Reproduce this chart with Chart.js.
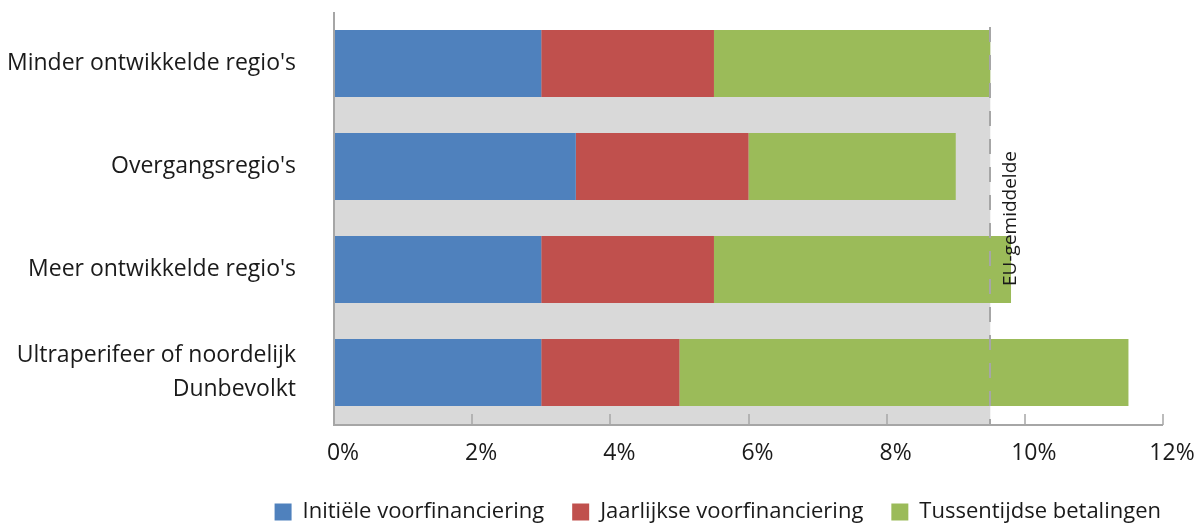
<!DOCTYPE html>
<html><head><meta charset="utf-8">
<script src="https://cdn.jsdelivr.net/npm/chart.js@4/dist/chart.umd.min.js"></script>
<style>html,body{margin:0;padding:0;background:#fff}#wrap{width:1204px;height:524px}</style>
</head><body><div id="wrap"><canvas id="c"></canvas></div>
<script>
const categories = ["Minder ontwikkelde regio's", "Overgangsregio's", "Meer ontwikkelde regio's", ["Ultraperifeer of noordelijk", "Dunbevolkt"]];
const seriesNames = ["Initiële voorfinanciering", "Jaarlijkse voorfinanciering", "Tussentijdse betalingen"];
const initial = [3, 3.5, 3, 3];
const annual = [2.5, 2.5, 2.5, 2];
const interim = [4, 3, 4.3, 6.5];
const euAverage = 9.5;
const euLabel = "EU-gemiddelde";
const xTicks = [0, 2, 4, 6, 8, 10, 12];

const FONT = "'Open Sans', 'Noto Sans', sans-serif";
const AXIS = "#a6a6a6";

const bgPlugin = {
  id: 'euBg',
  beforeDatasetsDraw(chart) {
    const {ctx, chartArea, scales} = chart;
    const bar0 = chart.getDatasetMeta(0).data[0];
    const top = bar0.y - bar0.height / 2;
    const x0 = scales.x.getPixelForValue(0);
    const x1 = scales.x.getPixelForValue(euAverage);
    ctx.save();
    ctx.fillStyle = '#d9d9d9';
    ctx.fillRect(x0, top, x1 - x0, chartArea.bottom - top);
    ctx.restore();
  },
  afterDatasetsDraw(chart) {
    const {ctx, chartArea, scales} = chart;
    const bar0 = chart.getDatasetMeta(0).data[0];
    const top = bar0.y - bar0.height / 2 - 3;
    const x = Math.round(scales.x.getPixelForValue(euAverage));
    ctx.save();
    ctx.strokeStyle = AXIS;
    ctx.lineWidth = 2;
    ctx.setLineDash([15, 13]);
    ctx.beginPath();
    ctx.moveTo(x, top);
    ctx.lineTo(x, chartArea.bottom);
    ctx.stroke();
    ctx.setLineDash([]);
    ctx.lineWidth = 2;
    ctx.strokeStyle = AXIS;
    ctx.beginPath();
    ctx.moveTo(chartArea.left, chartArea.top);
    ctx.lineTo(chartArea.left, chartArea.bottom + 1);
    ctx.lineTo(chartArea.right, chartArea.bottom + 1);
    ctx.stroke();
    ctx.lineWidth = 1.5;
    xTicks.forEach(v => {
      const px = Math.round(scales.x.getPixelForValue(v));
      ctx.beginPath();
      ctx.moveTo(px, chartArea.bottom + 1);
      ctx.lineTo(px, chartArea.bottom - 10);
      ctx.stroke();
    });
    ctx.translate(x + 21, scales.y.getPixelForValue(1) + 52);
    ctx.rotate(-Math.PI / 2);
    ctx.fillStyle = '#1a1a1a';
    ctx.font = "19px " + FONT;
    ctx.textAlign = 'center';
    ctx.textBaseline = 'middle';
    ctx.fillText(euLabel, 0, 0);
    ctx.restore();
  }
};

new Chart(document.getElementById('c'), {
  type: 'bar',
  data: {
    labels: categories,
    datasets: [
      {label: seriesNames[0], data: initial, backgroundColor: '#4f81bd'},
      {label: seriesNames[1], data: annual, backgroundColor: '#c0504d'},
      {label: seriesNames[2], data: interim, backgroundColor: '#9bbb59'}
    ]
  },
  options: {
    indexAxis: 'y',
    responsive: true,
    maintainAspectRatio: false,
    animation: false,
    datasets: {bar: {categoryPercentage: 1, barPercentage: 0.65, borderWidth: 0}},
    layout: {padding: {top: 12, right: 15, left: 0, bottom: -9}},
    scales: {
      x: {
        stacked: true, min: 0, max: 12,
        afterBuildTicks(s) { s.ticks = xTicks.map(v => ({value: v})); },
        afterFit(s) { s.height = 49; s.paddingLeft = 0; s.paddingRight = 41; },
        grid: {display: false, drawTicks: false},
        border: {display: false},
        ticks: {padding: 16, labelOffset: 9, color: '#1a1a1a', font: {family: FONT, size: 23}, callback: v => v + '%'}
      },
      y: {
        stacked: true,
        afterFit(s) { s.width = 334; s.paddingTop = 0; s.paddingBottom = 0; },
        grid: {display: false, drawTicks: false},
        border: {display: false},
        ticks: {padding: 38, color: '#1a1a1a', font: {family: FONT, size: 23, lineHeight: 1.5}}
      }
    },
    plugins: {
      legend: {
        position: 'bottom',
        align: 'end',
        labels: {boxWidth: 17, boxHeight: 17, padding: 28, color: '#1a1a1a', font: {family: FONT, size: 22}}
      },
      tooltip: {enabled: false}
    }
  },
  plugins: [bgPlugin]
});
</script></body></html>
